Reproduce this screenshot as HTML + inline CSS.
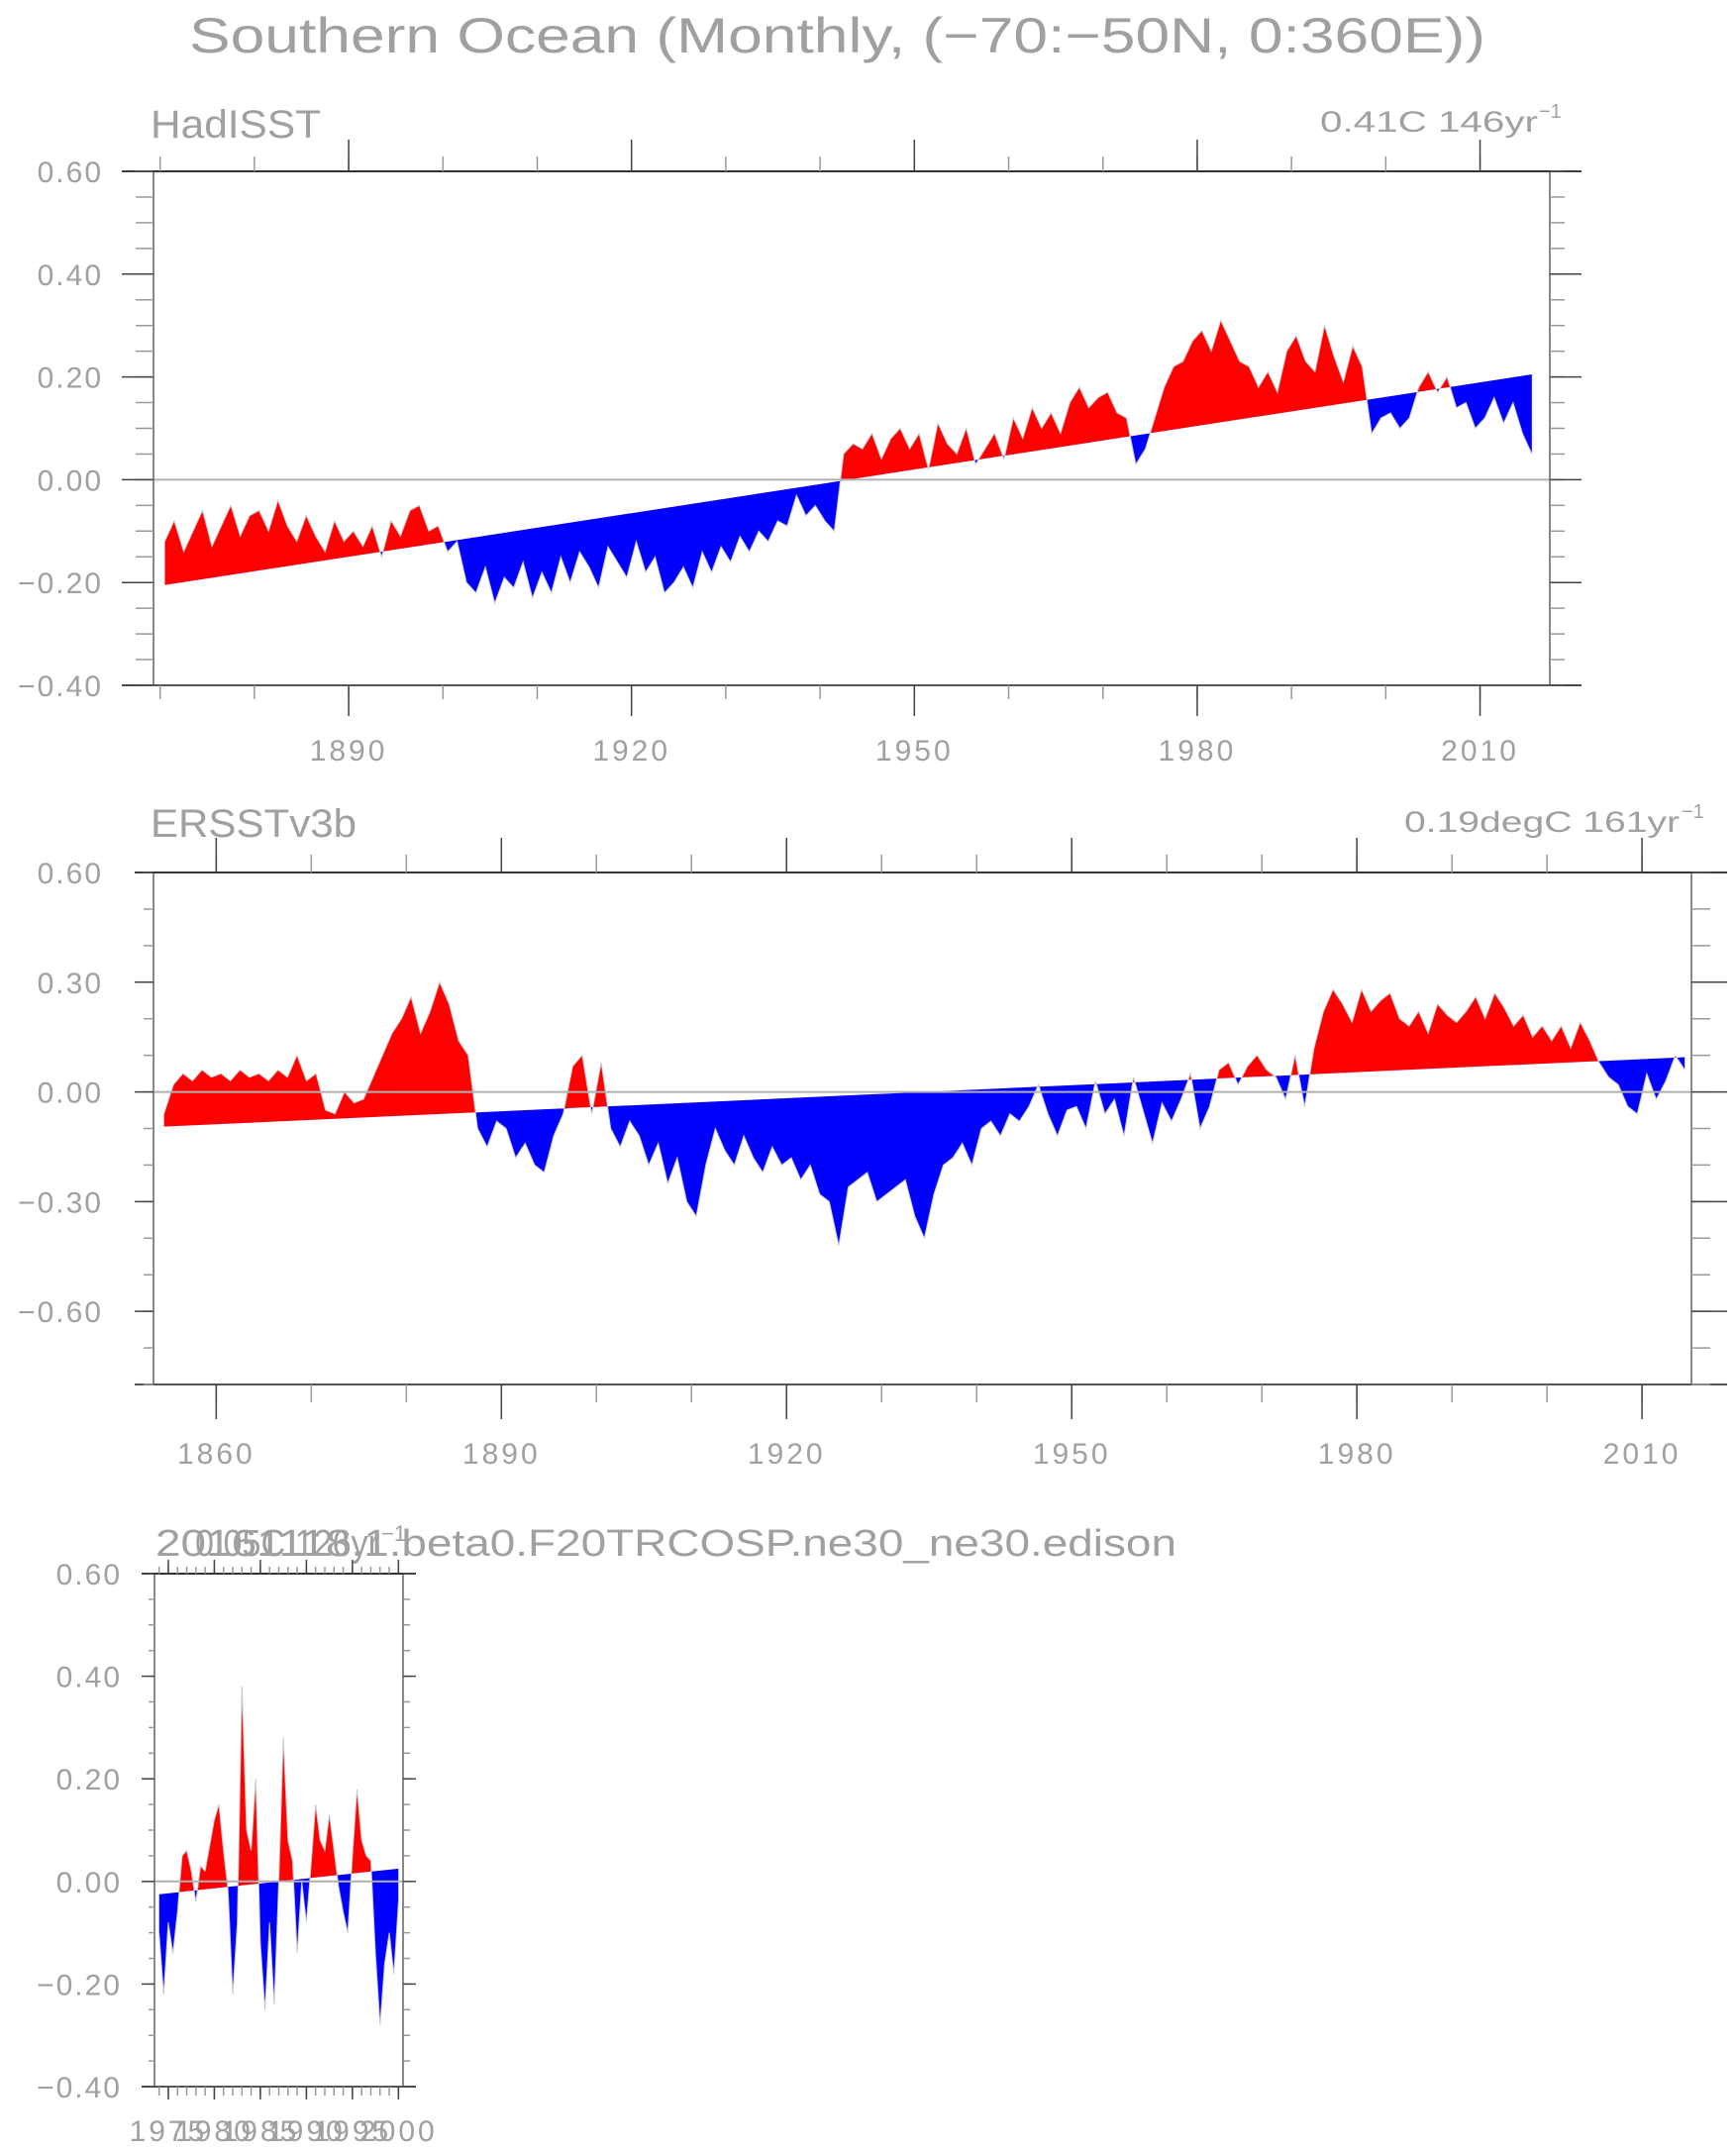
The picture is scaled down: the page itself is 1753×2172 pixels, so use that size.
<!DOCTYPE html>
<html><head><meta charset="utf-8"><style>
html,body{margin:0;padding:0;background:#fff;}
svg{display:block;}
text{font-family:"Liberation Sans",sans-serif;fill:#a0a0a0;}
</style></head><body>
<svg id="chart" width="1753" height="2172" viewBox="0 0 1753 2172" xmlns="http://www.w3.org/2000/svg">
<text x="191" y="53" font-size="50" textLength="1309" lengthAdjust="spacingAndGlyphs">Southern Ocean (Monthly, (−70:−50N, 0:360E))</text>
<text x="152" y="139" font-size="40" textLength="172" lengthAdjust="spacingAndGlyphs">HadISST</text>
<text x="1333" y="133" font-size="30" textLength="220" lengthAdjust="spacingAndGlyphs">0.41C 146yr</text>
<text x="1554" y="119" font-size="20">−1</text>
<text x="152" y="845" font-size="40" textLength="208" lengthAdjust="spacingAndGlyphs">ERSSTv3b</text>
<text x="1418" y="840" font-size="30" textLength="278" lengthAdjust="spacingAndGlyphs">0.19degC 161yr</text>
<text x="1698" y="826" font-size="20">−1</text>
<text x="157" y="1571" font-size="38" textLength="1031" lengthAdjust="spacingAndGlyphs">20161118.1.beta0.F20TRCOSP.ne30_ne30.edison</text>
<text x="197" y="1571" font-size="38" textLength="186" lengthAdjust="spacingAndGlyphs">0.05C 126yr</text>
<text x="385" y="1556" font-size="22">−1</text>
</svg>
<script>
// ---- Panel 1: HadISST (annual representative values 1870-2015)
const hadStartYear = 1870;
const hadValues = [
-0.12,-0.08,-0.14,-0.10,-0.06,-0.13,-0.09,-0.05,-0.11,-0.07,
-0.06,-0.10,-0.04,-0.09,-0.12,-0.07,-0.11,-0.14,-0.08,-0.12,
-0.10,-0.13,-0.09,-0.15,-0.08,-0.11,-0.06,-0.05,-0.10,-0.09,
-0.14,-0.12,-0.20,-0.22,-0.17,-0.24,-0.19,-0.21,-0.16,-0.23,
-0.18,-0.22,-0.15,-0.20,-0.14,-0.17,-0.21,-0.13,-0.16,-0.19,
-0.12,-0.18,-0.15,-0.22,-0.20,-0.17,-0.21,-0.14,-0.18,-0.13,
-0.16,-0.11,-0.14,-0.10,-0.12,-0.08,-0.09,-0.03,-0.07,-0.05,
-0.08,-0.10,0.05,0.07,0.06,0.09,0.04,0.08,0.10,0.06,
0.09,0.02,0.11,0.07,0.05,0.10,0.03,0.06,0.09,0.04,
0.12,0.08,0.14,0.10,0.13,0.09,0.15,0.18,0.14,0.16,
0.17,0.13,0.12,0.03,0.06,0.12,0.18,0.22,0.23,0.27,
0.29,0.25,0.31,0.27,0.23,0.22,0.18,0.21,0.17,0.25,
0.28,0.23,0.21,0.30,0.24,0.19,0.26,0.22,0.09,0.12,
0.13,0.10,0.12,0.18,0.21,0.17,0.20,0.14,0.15,0.10,
0.12,0.16,0.11,0.15,0.09,0.05];
const hadTrend = [-0.205, 0.205];
const hadYTicks = ["0.60","0.40","0.20","0.00","−0.20","−0.40"];
const hadXTicks = ["1890","1920","1950","1980","2010"];

// ---- Panel 2: ERSSTv3b (1854-2014)
const ersStartYear = 1854;
const ersValues = [
-0.06,0.02,0.05,0.03,0.06,0.04,
0.05,0.03,0.06,0.04,0.05,0.03,0.06,0.04,0.10,0.03,
0.05,-0.05,-0.06,0.00,-0.03,-0.02,0.04,0.10,0.16,0.20,
0.26,0.16,0.22,0.30,0.24,0.14,0.10,-0.10,-0.15,-0.08,
-0.10,-0.18,-0.14,-0.20,-0.22,-0.12,-0.06,0.07,0.10,-0.06,
0.08,-0.10,-0.15,-0.08,-0.12,-0.20,-0.14,-0.25,-0.18,-0.30,
-0.34,-0.20,-0.10,-0.16,-0.20,-0.12,-0.18,-0.22,-0.15,-0.20,
-0.18,-0.24,-0.20,-0.28,-0.30,-0.42,-0.26,-0.24,-0.22,-0.30,
-0.28,-0.26,-0.24,-0.34,-0.40,-0.28,-0.20,-0.18,-0.14,-0.20,
-0.10,-0.08,-0.12,-0.06,-0.08,-0.04,0.02,-0.06,-0.12,-0.05,
-0.04,-0.10,0.03,-0.06,-0.02,-0.12,0.04,-0.05,-0.14,-0.03,
-0.08,-0.02,0.05,-0.10,-0.04,0.06,0.08,0.02,0.07,0.10,
0.06,0.04,-0.02,0.10,-0.04,0.12,0.22,0.28,0.24,0.19,
0.28,0.22,0.25,0.27,0.20,0.18,0.22,0.16,0.24,0.21,
0.19,0.22,0.26,0.20,0.27,0.23,0.18,0.21,0.15,0.18,
0.14,0.18,0.12,0.19,0.14,0.08,0.04,0.02,-0.04,-0.06,
0.05,-0.02,0.03,0.10,0.06];
const ersTrend = [-0.095, 0.095];
const ersYTicks = ["0.60","0.30","0.00","−0.30","−0.60"];
const ersXTicks = ["1860","1890","1920","1950","1980","2010"];

// ---- Panel 3: model (half-yearly 1974-2000)
const modStartYear = 1974;
const modValues = [
-0.10,-0.22,-0.08,-0.14,-0.06,0.05,0.06,0.02,-0.04,0.03,
0.02,0.07,0.12,0.15,0.06,-0.02,-0.22,-0.08,0.38,0.10,
0.06,0.20,-0.12,-0.25,-0.08,-0.24,0.00,0.28,0.08,0.04,
-0.14,0.00,-0.08,0.03,0.15,0.08,0.06,0.13,0.06,-0.01,
-0.06,-0.10,0.05,0.18,0.08,0.05,0.04,-0.14,-0.28,-0.16,
-0.10,-0.18,-0.04];
const modTrend = [-0.025, 0.025];
const modYTicks = ["0.60","0.40","0.20","0.00","−0.20","−0.40"];
const modXTicks = ["1975","1980","1985","1990","1995","2000"];

const NS = "http://www.w3.org/2000/svg";
const svg = document.getElementById('chart');
function mk(tag, attrs, parent){
  const e = document.createElementNS(NS, tag);
  for (const k in attrs) e.setAttribute(k, attrs[k]);
  (parent||svg).appendChild(e);
  return e;
}

function drawPanel(cfg){
  const {id, L, R, T, B, x0, x1, y0, y1, values, start, step, trend, yTicks, yTickVals, yMinorStep,
         xTicks, xTickVals, xMinorStart, xMinorEnd, xMinorStep, lMaj, lMin, rMaj, rMin, tMaj, tMin, bMaj, bMin, xLabY} = cfg;
  const X = v => L + (v - x0) / (x1 - x0) * (R - L);
  const Y = v => T + (y1 - v) / (y1 - y0) * (B - T);
  const g = mk('g', {});
  
  

  const n = values.length;
  const tEnd = start + (n - 1) * step;
  const tr = t => trend[0] + (trend[1] - trend[0]) * (t - start) / (tEnd - start);
  const defs = mk('defs', {}, g);
  const cA = mk('clipPath', {id: id + '-above'}, defs);
  mk('polygon', {points: `${X(start)},${T-50} ${X(tEnd)},${T-50} ${X(tEnd)},${Y(tr(tEnd))} ${X(start)},${Y(tr(start))}`}, cA);
  const cB = mk('clipPath', {id: id + '-below'}, defs);
  mk('polygon', {points: `${X(start)},${B+50} ${X(tEnd)},${B+50} ${X(tEnd)},${Y(tr(tEnd))} ${X(start)},${Y(tr(start))}`}, cB);

  let d = '';
  values.forEach((v, i) => { const t = start + i * step; d += (i ? 'L' : 'M') + X(t).toFixed(1) + ',' + Y(v).toFixed(1); });
  let area = d + `L${X(tEnd)},${Y(tr(tEnd))}L${X(start)},${Y(tr(start))}Z`;
  const red = mk('path', {d: area, fill: '#ff0000', 'clip-path': `url(#${id}-above)`}, g);
  
  
  const blue = mk('path', {d: area, fill: '#0000ff', 'clip-path': `url(#${id}-below)`}, g);
  
  
  const line = mk('path', {d: d, fill: 'none', stroke: '#c8c8c8', 'stroke-width': 1}, g);
  
  

  const z = mk('line', {x1: L, x2: R, y1: Y(0), y2: Y(0), stroke: '#b0b0b0', 'stroke-width': 2}, g);
  
  

  const fr = mk('rect', {x: L, y: T, width: R - L, height: B - T, fill: 'none', stroke: '#888', 'stroke-width': 2}, g);
  
  
  mk('line', {x1: lMaj, x2: rMaj, y1: T, y2: T, stroke: '#333', 'stroke-width': 2}, g);
  mk('line', {x1: lMaj, x2: rMaj, y1: B, y2: B, stroke: '#555', 'stroke-width': 2}, g);

  for (let v = y0; v <= y1 + 1e-9; v += yMinorStep){
    const yy = Y(v);
    mk('line', {x1: lMin, x2: L, y1: yy, y2: yy, stroke: '#999', 'stroke-width': 1.5}, g);
    mk('line', {x1: R, x2: rMin, y1: yy, y2: yy, stroke: '#999', 'stroke-width': 1.5}, g);
  }
  yTicks.forEach((lab, i) => {
    const yy = Y(yTickVals[i]);
    mk('line', {x1: lMaj, x2: L, y1: yy, y2: yy, stroke: '#444', 'stroke-width': 1.5}, g);
    mk('line', {x1: R, x2: rMaj, y1: yy, y2: yy, stroke: '#444', 'stroke-width': 1.5}, g);
    const t = mk('text', {x: cfg.yLabX, y: yy + 11, 'font-size': 30, 'text-anchor': 'end', 'letter-spacing': 2}, g);
    
    
    t.textContent = lab;
  });
  for (let v = xMinorStart; v <= xMinorEnd + 1e-9; v += xMinorStep){
    const xx = X(v);
    mk('line', {x1: xx, x2: xx, y1: tMin, y2: T, stroke: '#999', 'stroke-width': 1.5}, g);
    mk('line', {x1: xx, x2: xx, y1: B, y2: bMin, stroke: '#999', 'stroke-width': 1.5}, g);
  }
  xTicks.forEach((lab, i) => {
    const xx = X(xTickVals[i]);
    mk('line', {x1: xx, x2: xx, y1: tMaj, y2: T, stroke: '#444', 'stroke-width': 1.5}, g);
    mk('line', {x1: xx, x2: xx, y1: B, y2: bMaj, stroke: '#444', 'stroke-width': 1.5}, g);
    const t = mk('text', {x: xx, y: xLabY, 'font-size': 30, 'text-anchor': 'middle', 'letter-spacing': 3}, g);
    
    
    t.textContent = lab;
  });
}

const num = s => parseFloat(s.replace('−', '-'));

drawPanel({id: 'hadisst', L: 155, R: 1565, T: 173, B: 692, x0: 1869.3, x1: 2017.4, y0: -0.4, y1: 0.6,
  values: hadValues, start: hadStartYear + 0.5, step: 1, trend: hadTrend,
  yTicks: hadYTicks, yTickVals: hadYTicks.map(num), yMinorStep: 0.05,
  xTicks: hadXTicks, xTickVals: hadXTicks.map(num), xMinorStart: 1870, xMinorEnd: 2010, xMinorStep: 10,
  lMaj: 123, lMin: 137, rMaj: 1597, rMin: 1580, tMaj: 141, tMin: 158, bMaj: 723, bMin: 706, xLabY: 768, yLabX: 104});

drawPanel({id: 'ersst', L: 155, R: 1708, T: 881, B: 1398, x0: 1853.4, x1: 2015.2, y0: -0.8, y1: 0.6,
  values: ersValues, start: ersStartYear + 0.5, step: 1, trend: ersTrend,
  yTicks: ersYTicks, yTickVals: ersYTicks.map(num), yMinorStep: 0.1,
  xTicks: ersXTicks, xTickVals: ersXTicks.map(num), xMinorStart: 1860, xMinorEnd: 2010, xMinorStep: 10,
  lMaj: 136, lMin: 145, rMaj: 1744, rMin: 1727, tMaj: 846, tMin: 863, bMaj: 1433, bMin: 1416, xLabY: 1478, yLabX: 104});

drawPanel({id: 'model', L: 156, R: 407, T: 1589, B: 2107, x0: 1973.5, x1: 2000.5, y0: -0.4, y1: 0.6,
  values: modValues, start: modStartYear, step: 0.5, trend: modTrend,
  yTicks: modYTicks, yTickVals: modYTicks.map(num), yMinorStep: 0.05,
  xTicks: modXTicks, xTickVals: modXTicks.map(num), xMinorStart: 1974, xMinorEnd: 2000, xMinorStep: 1,
  lMaj: 143, lMin: 150, rMaj: 420, rMin: 414, tMaj: 1575, tMin: 1582, bMaj: 2120, bMin: 2116, xLabY: 2162, yLabX: 123});
</script>
</body></html>
